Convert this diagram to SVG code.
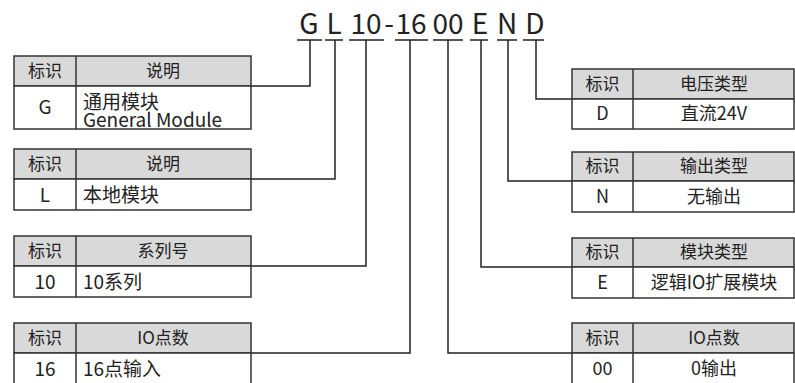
<svg xmlns="http://www.w3.org/2000/svg" width="795" height="383" viewBox="0 0 795 383">
<style>
text{font-family:"Noto Sans CJK SC","Noto Sans",sans-serif;fill:#222;}
.code{font-size:28px;text-anchor:middle;}
.h{font-size:17px;text-anchor:middle;}
.bl{font-size:19px;}
.br{font-size:18px;text-anchor:middle;}
.c{text-anchor:middle;}
.hd{fill:#d9d9d9;stroke:#333;stroke-width:1.5;}
.bd{fill:#fff;stroke:#333;stroke-width:1.5;}
.dv{stroke:#333;stroke-width:1.5;}
.ul{stroke:#222;stroke-width:1.5;fill:none;}
.cn{stroke:#222;stroke-width:1.5;fill:none;}
</style>
<g id="code">
<text class="code" x="309" y="34">G</text>
<text class="code" x="334" y="34">L</text>
<text class="code" x="366" y="34">10</text>
<text class="code" x="389" y="34">-</text>
<text class="code" x="411" y="34">16</text>
<text class="code" x="448" y="34">00</text>
<text class="code" x="480" y="34">E</text>
<text class="code" x="507" y="34">N</text>
<text class="code" x="535" y="34">D</text>
<path class="ul" d="M297 40H322M325 40H343M349 40H384M395 40H428M433 40H463M470 40H488M497 40H517M523 40H544"/>
</g>
<g id="connectors">
<path class="cn" d="M310 40V86H251"/>
<path class="cn" d="M335 40V179H251"/>
<path class="cn" d="M366 40V266H251"/>
<path class="cn" d="M410 40V353H251"/>
<path class="cn" d="M448 40V353H572"/>
<path class="cn" d="M481 40V267H572"/>
<path class="cn" d="M508 40V181H572"/>
<path class="cn" d="M536 40V99H572"/>
</g>
<g id="table-G">
<rect class="hd" x="14" y="56" width="237" height="30"/>
<rect class="bd" x="14" y="86" width="237" height="43"/>
<line class="dv" x1="76" y1="56" x2="76" y2="129"/>
<text class="h" x="45" y="77">标识</text>
<text class="h" x="163" y="77">说明</text>
<text class="bl c" x="45" y="114">G</text>
<text class="bl" x="83" y="109">通用模块</text>
<text class="bl" x="83" y="127">General Module</text>
</g>
<g id="table-L">
<rect class="hd" x="14" y="149" width="237" height="30"/>
<rect class="bd" x="14" y="179" width="237" height="31"/>
<line class="dv" x1="76" y1="149" x2="76" y2="210"/>
<text class="h" x="45" y="170">标识</text>
<text class="h" x="163" y="170">说明</text>
<text class="bl c" x="45" y="202">L</text>
<text class="bl" x="83" y="202">本地模块</text>
</g>
<g id="table-10">
<rect class="hd" x="14" y="236" width="237" height="30"/>
<rect class="bd" x="14" y="266" width="237" height="31"/>
<line class="dv" x1="76" y1="236" x2="76" y2="297"/>
<text class="h" x="45" y="257">标识</text>
<text class="h" x="163" y="257">系列号</text>
<text class="bl c" x="45" y="289">10</text>
<text class="bl" x="83" y="289">10系列</text>
</g>
<g id="table-16">
<rect class="hd" x="14" y="323" width="237" height="30"/>
<rect class="bd" x="14" y="353" width="237" height="40"/>
<line class="dv" x1="76" y1="323" x2="76" y2="393"/>
<text class="h" x="45" y="344">标识</text>
<text class="h" x="163" y="344">IO点数</text>
<text class="bl c" x="45" y="376">16</text>
<text class="bl" x="83" y="376">16点输入</text>
</g>
<g id="table-D">
<rect class="hd" x="572" y="69" width="222" height="30"/>
<rect class="bd" x="572" y="99" width="222" height="30"/>
<line class="dv" x1="633" y1="69" x2="633" y2="129"/>
<text class="h" x="602.5" y="90">标识</text>
<text class="h" x="714" y="90">电压类型</text>
<text class="br" x="602.5" y="120">D</text>
<text class="br" x="714" y="120">直流24V</text>
</g>
<g id="table-N">
<rect class="hd" x="572" y="152" width="222" height="29"/>
<rect class="bd" x="572" y="181" width="222" height="31"/>
<line class="dv" x1="633" y1="152" x2="633" y2="212"/>
<text class="h" x="602.5" y="172">标识</text>
<text class="h" x="714" y="172">输出类型</text>
<text class="br" x="602.5" y="203">N</text>
<text class="br" x="714" y="203">无输出</text>
</g>
<g id="table-E">
<rect class="hd" x="572" y="238" width="222" height="29"/>
<rect class="bd" x="572" y="267" width="222" height="31"/>
<line class="dv" x1="633" y1="238" x2="633" y2="298"/>
<text class="h" x="602.5" y="258">标识</text>
<text class="h" x="714" y="258">模块类型</text>
<text class="br" x="602.5" y="289">E</text>
<text class="br" x="714" y="289">逻辑IO扩展模块</text>
</g>
<g id="table-00">
<rect class="hd" x="572" y="323" width="222" height="30"/>
<rect class="bd" x="572" y="353" width="222" height="40"/>
<line class="dv" x1="633" y1="323" x2="633" y2="393"/>
<text class="h" x="602.5" y="344">标识</text>
<text class="h" x="714" y="344">IO点数</text>
<text class="br" x="602.5" y="375">00</text>
<text class="br" x="714" y="375">0输出</text>
</g>
</svg>
